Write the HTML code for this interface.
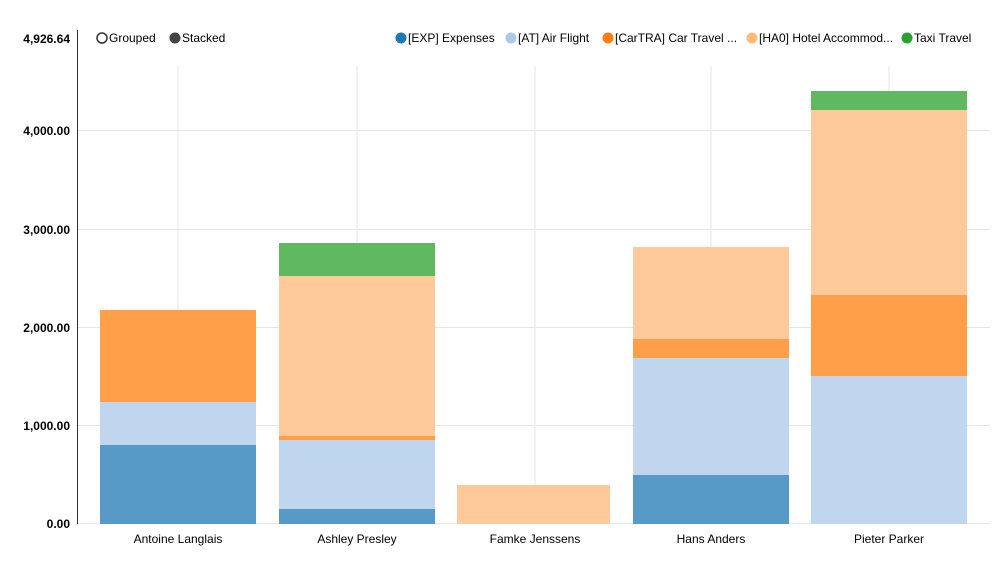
<!DOCTYPE html>
<html><head><meta charset="utf-8"><style>
html,body{margin:0;padding:0;background:#fff;}
svg{display:block;font-family:"Liberation Sans",Arial,sans-serif;}
</style></head><body>
<svg width="1000" height="567" viewBox="0 0 1000 567">
<g stroke="#e6e6e6" stroke-width="1">
<line x1="178" y1="66" x2="178" y2="524"/><line x1="357" y1="66" x2="357" y2="524"/>
<line x1="535" y1="66" x2="535" y2="524"/><line x1="711" y1="66" x2="711" y2="524"/>
<line x1="889" y1="66" x2="889" y2="524"/>
<line x1="78" y1="425.5" x2="990" y2="425.5"/><line x1="78" y1="327.5" x2="990" y2="327.5"/>
<line x1="78" y1="229.5" x2="990" y2="229.5"/><line x1="78" y1="130.5" x2="990" y2="130.5"/>
<line x1="78" y1="523.5" x2="990" y2="523.5"/>
</g>
<!-- Antoine -->
<rect x="100" y="445" width="156" height="79" fill="#5799c7"/>
<rect x="100" y="402" width="156" height="43" fill="#c0d5ee"/>
<rect x="100" y="310" width="156" height="92" fill="#ff9f4a"/>
<!-- Ashley -->
<rect x="279" y="509" width="156" height="15" fill="#5799c7"/>
<rect x="279" y="440" width="156" height="69" fill="#c0d5ee"/>
<rect x="279" y="436" width="156" height="4" fill="#ff9f4a"/>
<rect x="279" y="276" width="156" height="160" fill="#ffca99"/>
<rect x="279" y="243" width="156" height="33" fill="#60b860"/>
<!-- Famke -->
<rect x="457" y="485" width="153" height="39" fill="#ffca99"/>
<!-- Hans -->
<rect x="633" y="475" width="156" height="49" fill="#5799c7"/>
<rect x="633" y="358" width="156" height="117" fill="#c0d5ee"/>
<rect x="633" y="339" width="156" height="19" fill="#ff9f4a"/>
<rect x="633" y="247" width="156" height="92" fill="#ffca99"/>
<!-- Pieter -->
<rect x="811" y="376" width="156" height="148" fill="#c0d5ee"/>
<rect x="811" y="295" width="156" height="81" fill="#ff9f4a"/>
<rect x="811" y="110" width="156" height="185" fill="#ffca99"/>
<rect x="811" y="91" width="156" height="19" fill="#60b860"/>
<line x1="77.5" y1="30" x2="77.5" y2="524" stroke="#333" stroke-width="1"/>
<g font-size="12" font-weight="bold" fill="#000" text-anchor="end">
<text x="70" y="43">4,926.64</text>
<text x="70" y="135">4,000.00</text>
<text x="70" y="234">3,000.00</text>
<text x="70" y="332">2,000.00</text>
<text x="70" y="430">1,000.00</text>
<text x="70" y="528">0.00</text>
</g>
<g font-size="12" fill="#000" text-anchor="middle">
<text x="178" y="543">Antoine Langlais</text>
<text x="357" y="543">Ashley Presley</text>
<text x="535" y="543">Famke Jenssens</text>
<text x="711" y="543">Hans Anders</text>
<text x="889" y="543">Pieter Parker</text>
</g>
<g font-size="12" fill="#000">
<circle cx="102" cy="38" r="5" fill="#fff" stroke="#333" stroke-width="1.5"/><text x="109" y="42">Grouped</text>
<circle cx="175" cy="38" r="5.5" fill="#444"/><text x="182" y="42">Stacked</text>
<circle cx="401" cy="38" r="5.5" fill="#1f77b4"/><text x="408" y="42">[EXP] Expenses</text>
<circle cx="511" cy="38" r="5.5" fill="#aec7e8"/><text x="518" y="42">[AT] Air Flight</text>
<circle cx="608" cy="38" r="5.5" fill="#ff7f0e"/><text x="615" y="42">[CarTRA] Car Travel ...</text>
<circle cx="752" cy="38" r="5.5" fill="#ffbb78"/><text x="759" y="42">[HA0] Hotel Accommod...</text>
<circle cx="907" cy="38" r="5.5" fill="#2ca02c"/><text x="914" y="42">Taxi Travel</text>
</g>
</svg>
</body></html>
